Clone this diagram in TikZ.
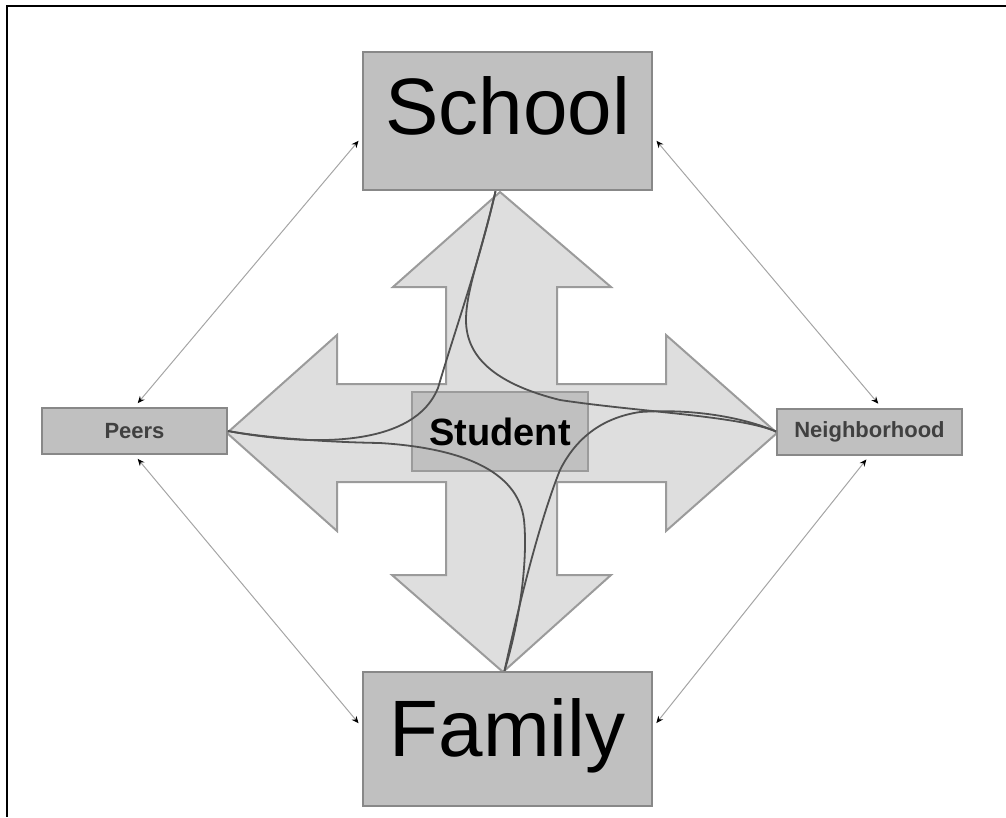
\documentclass[tikz,border=0pt]{standalone}
\usepackage{fontspec}
\setmainfont{Liberation Sans}
\definecolor{boxgray}{RGB}{192,192,192}
\definecolor{boxedge}{RGB}{136,136,136}
\definecolor{crossfill}{RGB}{222,222,222}
\definecolor{crossedge}{RGB}{155,155,155}
\definecolor{curvegray}{RGB}{80,80,80}
\definecolor{linkgray}{RGB}{165,165,165}
\usetikzlibrary{arrows.meta}
\tikzset{
  bxBig/.style={draw=boxedge, fill=boxgray, line width=2.5pt,
                minimum width=289pt, minimum height=#1, inner sep=0pt,
                font=\fontsize{80}{90}\selectfont},
  bxSmall/.style={draw=boxedge, fill=boxgray, line width=2pt,
                  minimum width=185pt, minimum height=46pt, inner sep=0pt,
                  font=\fontsize{22}{24}\selectfont\bfseries, text=black!75},
  link/.style={{Stealth[length=7pt,width=6pt,color=black]}-{Stealth[length=7pt,width=6pt,color=black]},
               draw=linkgray, line width=1pt, shorten <=5pt, shorten >=5pt},
  bendline/.style={draw=curvegray, line width=1.8pt},
}
\begin{document}
\begin{tikzpicture}[x=1pt, y=-1pt]
  \useasboundingbox (0,0) rectangle (1006,817);
  \draw[line width=2.5pt] (1006,6) -- (7,6) -- (7,817);
  % four-way arrow behind the student
  \draw[draw=crossedge, fill=crossfill, line width=2pt]
    (500,192) -- (611,287) -- (557,287) -- (557,384) -- (666,384) -- (666,335)
    -- (777,433) -- (666,531) -- (666,482) -- (557,482) -- (557,575) -- (611,575)
    -- (503,672) -- (392,575) -- (446,575) -- (446,482) -- (337,482) -- (337,531)
    -- (227,433) -- (337,335) -- (337,384) -- (446,384) -- (446,287) -- (393,287) -- cycle;
  \node[draw=crossedge, fill=boxgray, line width=2pt, minimum width=176pt,
        minimum height=79pt, inner sep=0pt,
        font=\fontsize{38}{40}\selectfont\bfseries] (student) at (500,431.5) {Student};
  \node[bxBig=138pt, text depth=30pt] (school) at (507.5,121) {School};
  \node[bxBig=134pt, text depth=22pt] (family) at (507.5,739) {Family};
  \node[bxSmall] (peers) at (134.5,431) {Peers};
  \node[bxSmall] (nbhd) at (869.5,431.5) {Neighborhood};
  % curved ties through the student
  \draw[bendline] ([xshift=-12pt]school.south) .. controls (480,260) and (455,330) .. (438,388)
    .. controls (415,445) and (320,448) .. (peers.east);
  \draw[bendline] ([xshift=-12pt]school.south) .. controls (482,250) and (466,290) .. (466,320)
    .. controls (466,360) and (500,385) .. (560,400)
    .. controls (640,412) and (740,416) .. (nbhd.west);
  \draw[bendline] ([xshift=-3pt]family.north) .. controls (520,620) and (528,560) .. (524,520)
    .. controls (518,470) and (460,448) .. (380,443)
    .. controls (320,442) and (260,437) .. (peers.east);
  \draw[bendline] ([xshift=-3pt]family.north) .. controls (520,600) and (540,520) .. (560,470)
    .. controls (575,440) and (600,418) .. (640,412)
    .. controls (700,408) and (750,420) .. (nbhd.west);
  % outer links
  \draw[link] ([yshift=-16pt]school.west) -- (peers.north);
  \draw[link] ([yshift=-16pt]school.east) -- ([xshift=12pt]nbhd.north);
  \draw[link] (peers.south) -- ([yshift=12pt]family.west);
  \draw[link] (nbhd.south) -- ([yshift=12pt]family.east);
\end{tikzpicture}
\end{document}
